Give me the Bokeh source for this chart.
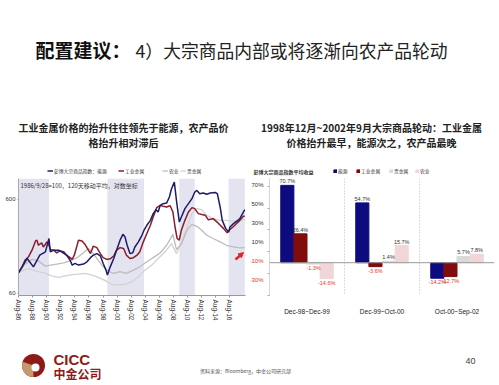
from datetime import datetime, timedelta
from bokeh.plotting import figure
from bokeh.layouts import column, row
from bokeh.models import (Range1d, FactorRange, FixedTicker, DatetimeTickFormatter, Legend, LegendItem,
                          BoxAnnotation, Label, LabelSet, ColumnDataSource, Span, Arrow, NormalHead)
from bokeh.transform import dodge
from bokeh.core.properties import value
from bokeh.embed import file_html
from bokeh.resources import INLINE

CJK = "Noto Sans CJK SC"
LAT = "Liberation Sans"
NAN = float("nan")

# ---------------- left chart data (1986=100, 120-day MA, log scale) ----------------
energy_t = [1986.6, 1987.8, 1988.0, 1988.7, 1989.6, 1990.4, 1990.9, 1991.1, 1991.6, 1992.3, 1992.7, 1993.4,
            1993.9, 1994.2, 1994.6, 1995.1, 1995.8, 1996.3, 1996.8, 1997.2, 1997.7, 1998.2, 1998.6, 1999.0,
            1999.2, 1999.6, 2000.1, 2000.5, 2001.0, 2001.4, 2001.7, 2002.0, 2002.4, 2002.8, 2003.1, 2003.6,
            2004.1, 2004.4, 2004.8, 2005.3, 2005.7, 2006.1, 2006.4, 2006.7, 2007.1, 2007.6, 2008.0, 2008.3,
            2008.7, 2009.0, 2009.4, 2009.7, 2010.2, 2010.7, 2011.2, 2011.6, 2011.9, 2012.3, 2012.8, 2013.3,
            2013.8, 2014.5, 2014.8, 2015.2, 2015.5, 2016.0, 2016.4, 2016.6, 2017.1, 2017.7, 2018.0, 2018.5,
            2018.7]
energy_v = [100, 141, 135, 115, 153, 166, 230, 166, 173, 173, 166, 153,
            135, 120, 125, 120, 123, 130, 144, 153, 159, 150, 125, 106,
            94, 115, 141, 173, 221, 255, 239, 195, 159, 162, 187, 212,
            249, 282, 318, 359, 423, 466, 440, 518, 540, 548, 635, 778,
            916, 586, 345, 390, 478, 540, 610, 718, 747, 689, 700, 680,
            700, 710, 689, 498, 359, 293, 270, 305, 331, 359, 374, 440,
            466]

metal_t = [1986.6, 1987.1, 1987.5, 1988.0, 1988.5, 1989.0, 1989.2, 1989.4, 1989.7, 1989.9, 1990.1, 1990.4,
           1990.6, 1990.9, 1991.1, 1991.6, 1992.0, 1992.5, 1993.0, 1993.4, 1993.9, 1994.2, 1994.5, 1994.9,
           1995.1, 1995.6, 1996.0, 1996.5, 1996.8, 1997.2, 1997.7, 1998.2, 1998.6, 1999.1, 1999.6, 2000.1,
           2000.5, 2001.0, 2001.5, 2001.9, 2002.4, 2002.9, 2003.4, 2003.8, 2004.3, 2004.8, 2005.3, 2005.7,
           2006.2, 2006.7, 2007.1, 2007.6, 2008.1, 2008.5, 2008.8, 2009.1, 2009.4, 2009.7, 2010.2, 2010.7,
           2011.2, 2011.6, 2012.1, 2012.6, 2013.1, 2013.5, 2014.2, 2014.9, 2015.7, 2016.2, 2016.6, 2017.1,
           2017.5, 2018.0, 2018.5, 2018.7]
metal_v = [100, 115, 135, 147, 173, 217, 221, 195, 203, 206, 187, 200,
           212, 195, 176, 173, 162, 170, 166, 153, 144, 138, 153, 195,
           221, 217, 200, 173, 159, 191, 184, 159, 144, 138, 140, 150,
           173, 184, 180, 153, 141, 144, 153, 166, 212, 260, 318, 390,
           490, 518, 508, 498, 513, 440, 305, 230, 221, 282, 359, 440,
           490, 478, 423, 415, 406, 365, 374, 337, 293, 264, 287, 309,
           331, 359, 396, 396]

agri_t = [1986.6, 1987.5, 1988.5, 1989.4, 1990.4, 1991.1, 1992.0, 1993.0, 1993.9, 1994.9, 1995.8, 1996.5,
          1997.2, 1997.9, 1998.6, 1999.4, 2000.1, 2001.0, 2001.9, 2002.9, 2003.8, 2004.8, 2005.7, 2006.7,
          2007.6, 2008.5, 2009.0, 2009.7, 2010.5, 2011.2, 2011.9, 2012.6, 2013.3, 2014.2, 2015.2, 2016.1,
          2017.1, 2018.0, 2018.7]
agri_v = [100, 123, 138, 133, 117, 120, 123, 127, 133, 144, 162, 180,
          159, 135, 115, 102, 98, 102, 98, 106, 115, 130, 144, 162,
          195, 255, 176, 200, 282, 326, 310, 282, 249, 230, 212, 195,
          187, 183, 184]

gold_t = [1986.6, 1987.3, 1988.0, 1988.7, 1989.4, 1990.4, 1991.3, 1992.3, 1993.2, 1994.2, 1995.1, 1996.0,
          1997.0, 1997.9, 1998.9, 1999.8, 2000.8, 2001.7, 2002.7, 2003.6, 2004.5, 2005.5, 2006.4, 2007.4,
          2008.3, 2009.0, 2009.7, 2010.5, 2011.2, 2011.9, 2012.6, 2013.3, 2014.2, 2015.2, 2016.1, 2017.1,
          2018.0, 2018.7]
gold_v = [100, 106, 110, 106, 102, 98, 92, 89, 92, 95, 96, 98,
          94, 89, 82, 75, 74, 75, 80, 90, 106, 120, 141, 166,
          203, 159, 212, 305, 423, 478, 466, 406, 374, 359, 359, 352,
          359, 365]

shade_start = [1986.6, 1999.2, 2009.4, 2016.4]
shade_end = [1990.9, 2004.4, 2011.6, 2018.7]
tick_years = list(range(1986, 2018, 2))
left_yticks = [60, 600]
left_names = ["彭博大宗商品指数：能源", "工业金属", "农业", "贵金属"]

# ---------------- right chart data ----------------
periods = ["Dec-98~Dec-99", "Dec-99~Oct-00", "Oct-00~Sep-02"]
series_names = ["能源", "工业金属", "贵金属", "农业"]
energy_ret = [70.7, 54.7, -14.2]
metal_ret = [26.4, -3.6, -12.7]
precious_ret = [-1.3, 1.4, 5.7]
agri_ret = [-14.6, 15.7, 7.8]
right_yticks = [-30, -10, 10, 30, 50, 70]

# ---------------- styles ----------------
left_colors = ["#1c1c6a", "#8a1c2c", "#bdbdbd", "#d2d2d6"]
left_widths = [1.5, 1.5, 1.3, 1.3]
left_legend_x = [47, 118, 162, 180]
bar_colors = ["#0c0c80", "#800c0c", "#d9d9d9", "#f0d6d6"]
bar_offsets = [-0.2625, -0.0875, 0.0875, 0.2625]
right_legend_x = [333, 356, 389, 415]
RED = "#e8332a"


def to_dt(y):
    yi = int(y)
    return datetime(yi, 1, 1) + timedelta(days=(y - yi) * 365.25)


def clabel(p, x, y, text, size, font=CJK, style="normal", color="#111", align="left"):
    p.add_layout(Label(x=x, y=y, x_units="canvas", y_units="canvas", text=text,
                       text_font=font, text_font_size=size, text_font_style=style,
                       text_color=color, text_align=align, text_baseline="middle"))


def bare(p):
    p.grid.visible = False
    p.outline_line_color = None


def one_legend(p, label, renderer, x, gw, gh):
    p.add_layout(Legend(items=[LegendItem(label=label, renderers=[renderer])],
                        location=(x, 4), orientation="horizontal",
                        label_text_font=CJK, label_text_font_size="4.8px", label_text_color="#333",
                        glyph_width=gw, glyph_height=gh, label_height=5, label_width=5,
                        label_standoff=1, spacing=0, padding=0, margin=0,
                        border_line_color=None, background_fill_alpha=0))


# ================= head: slide title, chart titles, legends =================
head = figure(width=499, height=178, x_range=Range1d(0, 499), y_range=Range1d(178, 0),
              x_axis_location=None, y_axis_location=None, min_border=0,
              output_backend="svg", toolbar_location=None)
bare(head)

clabel(head, 35, 49, "配置建议：", "19px", style="bold")
clabel(head, 135, 49, "4）大宗商品内部或将逐渐向农产品轮动", "17.8px", color="#222")
clabel(head, 123, 127, "工业金属价格的抬升往往领先于能源，农产品价", "10px", style="bold", color="#222", align="center")
clabel(head, 123, 142, "格抬升相对滞后", "10px", style="bold", color="#222", align="center")
clabel(head, 371, 127, "1998年12月~2002年9月大宗商品轮动：工业金属", "10px", style="bold", color="#222", align="center")
clabel(head, 371, 142, "价格抬升最早，能源次之，农产品最晚", "10px", style="bold", color="#222", align="center")
clabel(head, 253, 171, "彭博大宗商品指数平均收益", "5px", style="bold", color="#333")

# legend swatches (undrawn proxies with the same styles as the chart series)
for n, c, w, x in zip(left_names, left_colors, left_widths, left_legend_x):
    r = head.line(x=[NAN], y=[NAN], line_color=c, line_width=w)
    one_legend(head, n, r, x, 6, 5)
for n, c, x in zip(series_names, bar_colors, right_legend_x):
    r = head.vbar(x=[NAN], top=[NAN], width=1, fill_color=c, line_color=c)
    one_legend(head, n, r, x, 4, 4)

# ================= left chart =================
left = figure(width=250, height=147, x_axis_type="datetime", y_axis_type="log",
              x_range=Range1d(to_dt(1986.58), to_dt(2018.8)), y_range=Range1d(57, 1000),
              min_border_left=18, min_border_right=5, min_border_top=0, min_border_bottom=30,
              output_backend="svg", toolbar_location=None)
bare(left)

for s, e in zip(shade_start, shade_end):
    left.add_layout(BoxAnnotation(left=to_dt(s), right=to_dt(e), fill_color="#e3e4f0",
                                  fill_alpha=1.0, line_color=None, level="underlay"))

series_left = [(energy_t, energy_v), (metal_t, metal_v), (agri_t, agri_v), (gold_t, gold_v)]
for i in [3, 2, 1, 0]:
    t, v = series_left[i]
    left.line([to_dt(x) for x in t], v, line_color=left_colors[i], line_width=left_widths[i])

xa = left.xaxis[0]
xa.ticker = FixedTicker(ticks=[datetime(y, 8, 1).timestamp() * 1000 for y in tick_years])
xa.formatter = DatetimeTickFormatter(years="%b-%y", months="%b-%y", days="%b-%y", hours="%b-%y")
xa.major_label_orientation = "vertical"
xa.major_label_text_font = LAT
xa.major_label_text_font_size = "6.5px"
xa.major_label_text_color = "#333"
xa.major_label_standoff = 2
xa.axis_line_color = "#999"
xa.major_tick_line_color = "#999"
xa.major_tick_out = 2
xa.major_tick_in = 0
xa.minor_tick_line_color = None

ya = left.yaxis[0]
ya.ticker = FixedTicker(ticks=left_yticks)
ya.major_label_overrides = {t: str(t) for t in left_yticks}
ya.major_label_text_font = LAT
ya.major_label_text_font_size = "6px"
ya.major_label_text_color = "#333"
ya.major_label_standoff = 2
ya.axis_line_color = "#aaa"
ya.major_tick_line_color = "#999"
ya.major_tick_out = 1
ya.major_tick_in = 0
ya.minor_tick_line_color = None

left.add_layout(Label(x=20, y=2, x_units="canvas", y_units="canvas",
                      text="1986/9/28=100，120天移动平均，对数坐标", text_font=CJK,
                      text_font_size="6px", text_color="#333", text_baseline="top"))
left.add_layout(Arrow(end=NormalHead(size=5, fill_color="#e8222a", line_color="#e8222a"),
                      x_start=235, y_start=81, x_end=243, y_end=74,
                      start_units="canvas", end_units="canvas",
                      line_color="#e8222a", line_width=2.5))

# ================= right chart =================
y_top, y_bot = 77.0, -30.0
frame_h = 128
px_per = frame_h / (y_top - y_bot)
right_y = Range1d(y_bot, y_top)

# tick-label strip (same scale as the chart; negative labels red)
mid = figure(width=16, height=147, x_range=Range1d(0, 16),
             y_range=Range1d(y_bot - 19 / px_per, y_top),
             x_axis_location=None, y_axis_location=None, min_border=0,
             output_backend="svg", toolbar_location=None)
bare(mid)
for t in right_yticks:
    mid.add_layout(Label(x=13, y=t, text=f"{t}%", text_font=LAT, text_font_size="6px",
                         text_color=(RED if t < 0 else "#333"), text_align="right",
                         text_baseline="middle"))

right = figure(width=233, height=147, x_range=FactorRange(*periods), y_range=right_y,
               min_border_left=3, min_border_right=5, min_border_top=0, min_border_bottom=19,
               output_backend="svg", toolbar_location=None)
bare(right)

for loc in [1, 2]:
    right.add_layout(Span(location=loc, dimension="height", line_color="#bbbbbb",
                          line_dash="1 2", line_width=1))
right.add_layout(Span(location=0, dimension="width", line_color="#999999", line_width=1))

for name, vals, col, off in zip(series_names, [energy_ret, metal_ret, precious_ret, agri_ret],
                                bar_colors, bar_offsets):
    src = ColumnDataSource(dict(period=periods, val=vals))
    right.vbar(x=dodge("period", off, range=right.x_range), top="val", width=0.175,
               source=src, fill_color=col, line_color=col)
    pos = [(p, v) for p, v in zip(periods, vals) if v >= 0]
    neg = [(p, v) for p, v in zip(periods, vals) if v < 0]
    for group, yoff, base, tcol in [(pos, 1, "bottom", "#333333"), (neg, -1, "top", RED)]:
        if not group:
            continue
        lsrc = ColumnDataSource(dict(period=[g[0] for g in group], val=[g[1] for g in group],
                                     txt=[f"{g[1]:.1f}%" for g in group]))
        right.add_layout(LabelSet(x=dodge("period", off, range=right.x_range), y="val", text="txt",
                                  source=lsrc, y_offset=yoff, text_baseline=base, text_align="center",
                                  text_font=value(LAT), text_font_size=value("5.5px"), text_color=tcol))

rya = right.yaxis[0]
rya.ticker = FixedTicker(ticks=right_yticks)
rya.major_label_overrides = {t: "" for t in right_yticks}
rya.major_label_text_font_size = "1px"
rya.major_label_standoff = 0
rya.axis_line_color = "#aaaaaa"
rya.axis_line_dash = "1 1"
rya.major_tick_line_color = "#aaaaaa"
rya.major_tick_out = 2
rya.major_tick_in = 0
rya.minor_tick_line_color = None

rxa = right.xaxis[0]
rxa.axis_line_color = None
rxa.major_tick_line_color = None
rxa.major_label_text_font = LAT
rxa.major_label_text_font_size = "6.5px"
rxa.major_label_text_color = "#222"
rxa.major_label_standoff = 6

# ================= footer =================
foot = figure(width=499, height=60, x_range=Range1d(0, 499), y_range=Range1d(60, 0),
              x_axis_location=None, y_axis_location=None, min_border=0,
              output_backend="svg", toolbar_location=None)
bare(foot)
foot.circle(x=[33], y=[40], radius=11.5, fill_color="#8e1b17", line_color=None)
foot.annular_wedge(x=[33], y=[40], inner_radius=0, outer_radius=11.5, start_angle=2.8, end_angle=4.7,
                   fill_color="#c49a6c", line_color=None)
foot.circle(x=[35], y=[42], radius=4, fill_color="white", line_color=None)
clabel(foot, 53, 34, "CICC", "15px", font=LAT, style="bold", color="#8e1b17")
clabel(foot, 53, 48, "中金公司", "12px", style="bold", color="#8e1b17")
clabel(foot, 245, 45, "资料来源：Bloomberg，中金公司研究部", "5px", color="#555", align="center")
clabel(foot, 470, 35, "40", "9px", font=LAT, color="#444", align="center")

layout = column(head, row(left, mid, right), foot)
open("out.html", "w").write(file_html(layout, INLINE))
